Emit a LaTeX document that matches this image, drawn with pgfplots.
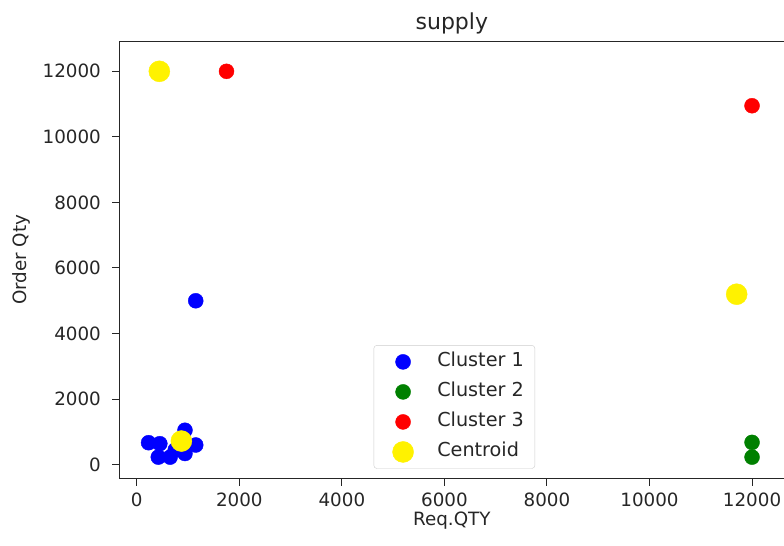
\documentclass[border=0pt]{standalone}
\usepackage{fontspec}
\setmainfont{DejaVu Sans}
\usepackage{pgfplots}
\pgfplotsset{compat=1.18}
\definecolor{mgreen}{RGB}{0,128,0}
\begin{document}
\begin{tikzpicture}
\begin{axis}[
  scale only axis,
  width=665bp, height=437.3bp,
  xmin=-345, xmax=12635,
  ymin=-427, ymax=12924,
  axis line style={line width=1bp, black!85},
  tick align=outside,
  major tick length=7bp,
  tick style={line width=1bp, black!85},
  xtick={0,2000,4000,6000,8000,10000,12000},
  ytick={0,2000,4000,6000,8000,10000,12000},
  xtick pos=bottom, ytick pos=left,
  scaled ticks=false,
  /pgf/number format/.cd, set thousands separator={}, assume math mode=true,
  /pgfplots/.cd,
  ticklabel style={font=\fontsize{18.3bp}{22bp}\selectfont, text=black!85},
  xticklabel style={anchor=north, inner sep=0pt, yshift=-7bp},
  yticklabel style={anchor=east, inner sep=0pt, xshift=-11bp},
  xlabel={Req.QTY},
  ylabel={Order Qty},
  xlabel style={font=\fontsize{18.3bp}{22bp}\selectfont, text=black!85, at={(axis description cs:0.5,-0.0954)}, anchor=center},
  ylabel style={font=\fontsize{18.3bp}{22bp}\selectfont, text=black!85, at={(axis description cs:-0.146,0.5)}, anchor=center, rotate=0},
  title={supply},
  title style={font=\fontsize{22bp}{26bp}\selectfont, text=black!85, at={(axis description cs:0.5,1.0274)}, anchor=center},
  legend cell align=left,
  legend image code/.code={\path (-21bp,0bp) (31bp,0bp); \draw[mark repeat=2,mark phase=2] plot coordinates {(-1bp,0bp) (0bp,0bp) (1bp,0bp)};},
  legend style={at={(axis description cs:0.5,0)}, anchor=south, yshift=10bp, xshift=2.5bp,
    draw=black!20, rounded corners=3bp, fill=white,
    font=\fontsize{19.2bp}{22bp}\selectfont, text=black!85,
    row sep=9bp, inner xsep=8bp, inner ysep=6bp,
    nodes={inner ysep=2bp, inner xsep=3bp, text height=13bp, text depth=4bp}},
]
\addplot[only marks, mark=*, mark size=7.5bp, color=blue] coordinates {
 (230,670) (450,640) (420,230) (650,230) (750,450) (940,340) (940,1050) (1150,600) (1150,5000)
};
\addlegendentry{Cluster 1}
\addplot[only marks, mark=*, mark size=7.5bp, color=mgreen] coordinates {
 (12000,680) (12000,230)
};
\addlegendentry{Cluster 2}
\addplot[only marks, mark=*, mark size=7.5bp, color=red] coordinates {
 (1750,12000) (12000,10950)
};
\addlegendentry{Cluster 3}
\addplot[only marks, mark=*, mark size=10.5bp, color=yellow] coordinates {
 (870,720) (440,12000) (11700,5200)
};
\addlegendentry{Centroid}
\end{axis}
\pgfresetboundingbox
\path ([shift={(-119bp,-66.7bp)}]current axis.south west) rectangle ([shift={(-0.6bp,41bp)}]current axis.north east);
\end{tikzpicture}
\end{document}
